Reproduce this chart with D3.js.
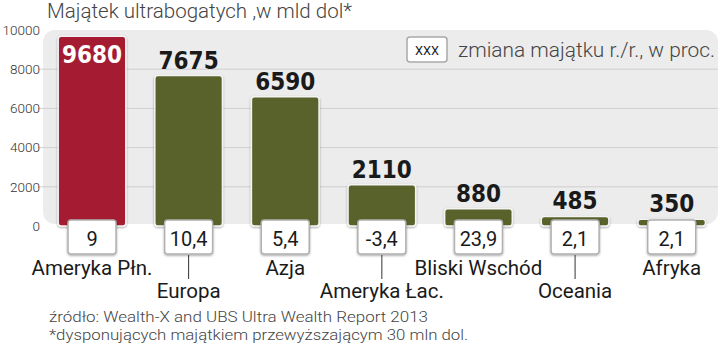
<!DOCTYPE html>
<html>
<head>
<meta charset="utf-8">
<script src="https://cdn.jsdelivr.net/npm/d3@7"></script>
<style>
  html, body { margin: 0; padding: 0; background: #fff; }
  svg { display: block; }
</style>
</head>
<body>
<svg id="chart" width="720" height="345"></svg>
<script>
// Wealth of ultra-high-net-worth individuals by region (bln USD)
const regions = ["Ameryka Płn.", "Europa", "Azja", "Ameryka Łac.", "Bliski Wschód", "Oceania", "Afryka"];
const wealth = [9680, 7675, 6590, 2110, 880, 485, 350];
const changeYoY = ["9", "10,4", "5,4", "-3,4", "23,9", "2,1", "2,1"];
const yTicks = [0, 2000, 4000, 6000, 8000, 10000];

const svg = d3.select("#chart");

const defs = svg.append("defs");
const sh = defs.append("filter").attr("id", "shadow")
  .attr("x", "-20%").attr("y", "-20%").attr("width", "140%").attr("height", "160%");
sh.append("feDropShadow").attr("dx", 0).attr("dy", 1).attr("stdDeviation", 1.2)
  .attr("flood-color", "#000").attr("flood-opacity", 0.35);

const x = d3.scaleBand().domain(regions).range([43.7, 720]).paddingInner(0.3).paddingOuter(0.15);
const y = d3.scaleLinear().domain([0, 10000]).range([226, 30]);
const cx = d => x(d) + x.bandwidth() / 2;

// grey plot panel with rounded corners
svg.append("rect")
  .attr("x", 43).attr("y", 30).attr("width", 675).attr("height", 194)
  .attr("rx", 12).attr("fill", "#ececec");

// gridlines
svg.append("g").selectAll("line")
  .data(yTicks.filter(t => t > 0 && t < 10000))
  .join("line")
  .attr("x1", 38).attr("x2", 718)
  .attr("y1", d => y(d)).attr("y2", d => y(d))
  .attr("stroke", "#cfcfcf").attr("stroke-width", 1);

// y axis tick labels
const yAxis = d3.axisLeft(y).tickValues(yTicks).tickFormat(d3.format("d")).tickSize(0).tickPadding(0);
const gy = svg.append("g").attr("transform", "translate(40,0)").call(yAxis);
gy.select(".domain").remove();
gy.selectAll("text")
  .attr("font-family", "Roboto, sans-serif").attr("font-weight", 300)
  .attr("font-size", 13.5).attr("fill", "#333");

// title
svg.append("text")
  .attr("x", 47).attr("y", 18)
  .attr("font-family", "Roboto, sans-serif").attr("font-weight", 300)
  .attr("font-size", 21).attr("fill", "#444")
  .attr("textLength", 305).attr("lengthAdjust", "spacingAndGlyphs")
  .text("Majątek ultrabogatych ,w mld dol*");

// legend
svg.append("rect")
  .attr("x", 407).attr("y", 37).attr("width", 40).attr("height", 25).attr("rx", 3)
  .attr("fill", "#fff").attr("stroke", "#a9a9a9").attr("stroke-width", 1.5);
svg.append("text")
  .attr("x", 427).attr("y", 55).attr("text-anchor", "middle")
  .attr("font-family", "Roboto, sans-serif").attr("font-size", 13).attr("fill", "#222")
  .attr("textLength", 24).attr("lengthAdjust", "spacingAndGlyphs")
  .text("XXX");
svg.append("text")
  .attr("x", 458).attr("y", 57)
  .attr("font-family", "Roboto, sans-serif").attr("font-weight", 300)
  .attr("font-size", 20).attr("fill", "#444")
  .attr("textLength", 257).attr("lengthAdjust", "spacingAndGlyphs")
  .text("zmiana majątku r./r., w proc.");

// bars
svg.append("g").selectAll("rect")
  .data(wealth)
  .join("rect")
  .attr("x", (d, i) => x(regions[i]))
  .attr("width", x.bandwidth())
  .attr("y", d => y(d))
  .attr("height", d => y(0) - y(d))
  .attr("rx", 3)
  .attr("fill", (d, i) => i === 0 ? "#a51d32" : "#596229")
  .attr("stroke", "#f4f4f4").attr("stroke-width", 1.5)
  .attr("filter", "url(#shadow)");

// value labels
svg.append("g").selectAll("text")
  .data(wealth)
  .join("text")
  .attr("x", (d, i) => cx(regions[i]))
  .attr("y", (d, i) => i === 0 ? y(d) + 27 : y(d) - 7)
  .attr("text-anchor", "middle")
  .attr("font-family", "'DejaVu Sans Condensed', 'DejaVu Sans', sans-serif")
  .attr("font-weight", "bold").attr("font-size", 24)
  .attr("fill", (d, i) => i === 0 ? "#fff" : "#1a1a1a")
  .text(d => d);

// year-over-year change boxes
const boxW = 48;
const boxes = svg.append("g");
boxes.selectAll("rect")
  .data(changeYoY)
  .join("rect")
  .attr("x", (d, i) => cx(regions[i]) - boxW / 2)
  .attr("y", 220).attr("width", boxW).attr("height", 34).attr("rx", 3)
  .attr("fill", "#fff").attr("stroke", "#b0b0b0").attr("stroke-width", 1.5)
  .attr("filter", "url(#shadow)");
boxes.selectAll("text")
  .data(changeYoY)
  .join("text")
  .attr("x", (d, i) => cx(regions[i]))
  .attr("y", 246)
  .attr("text-anchor", "middle")
  .attr("font-family", "Roboto, sans-serif").attr("font-size", 20).attr("fill", "#1a1a1a")
  .text(d => d);

// region labels, alternating rows with leader lines
const labels = svg.append("g");
labels.selectAll("line")
  .data(regions.filter((d, i) => i % 2 === 1))
  .join("line")
  .attr("x1", cx).attr("x2", cx)
  .attr("y1", 255).attr("y2", 279)
  .attr("stroke", "#333").attr("stroke-width", 1);
labels.selectAll("text")
  .data(regions)
  .join("text")
  .attr("x", cx)
  .attr("y", (d, i) => i % 2 === 0 ? 275 : 298)
  .attr("text-anchor", "middle")
  .attr("font-family", "Roboto, sans-serif").attr("font-size", 20.5).attr("fill", "#1a1a1a")
  .text(d => d);

// footnotes
svg.append("text")
  .attr("x", 49).attr("y", 321.5)
  .attr("font-family", "Roboto, sans-serif").attr("font-weight", 300)
  .attr("font-size", 15.5).attr("fill", "#444")
  .attr("textLength", 379).attr("lengthAdjust", "spacingAndGlyphs")
  .text("źródło: Wealth-X and UBS Ultra Wealth Report 2013");
svg.append("text")
  .attr("x", 49).attr("y", 340)
  .attr("font-family", "Roboto, sans-serif").attr("font-weight", 300)
  .attr("font-size", 15.5).attr("fill", "#444")
  .attr("textLength", 419).attr("lengthAdjust", "spacingAndGlyphs")
  .text("*dysponujących majątkiem przewyższającym 30 mln dol.");
</script>
</body>
</html>
